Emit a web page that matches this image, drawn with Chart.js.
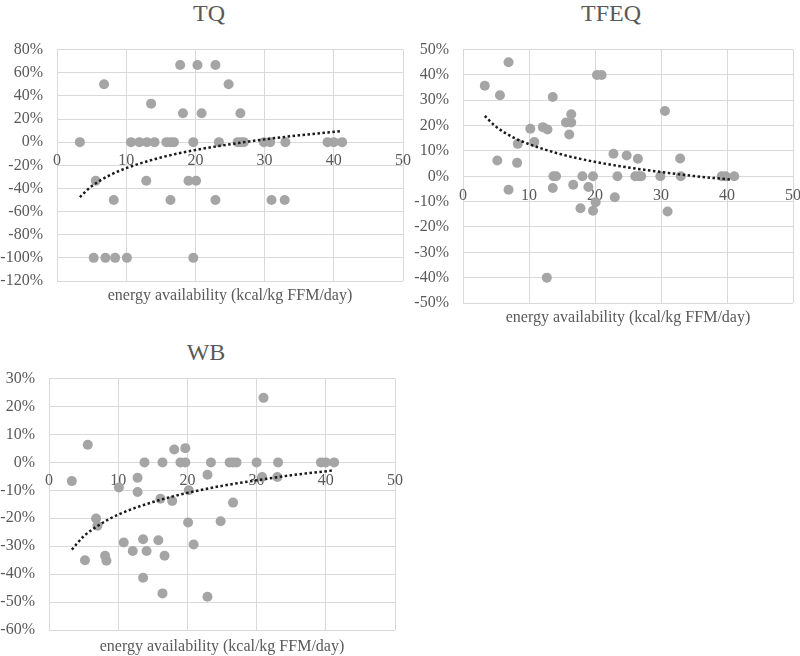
<!DOCTYPE html>
<html>
<head>
<meta charset="utf-8">
<script src="https://cdn.jsdelivr.net/npm/chart.js@4.4.0/dist/chart.umd.min.js"></script>
<style>
body { margin: 0; background: #fff; width: 800px; height: 656px; position: relative; overflow: hidden; }
canvas { position: absolute; }
.title { position: absolute; transform: translate(-50%, -50%); font-family: 'Liberation Serif', 'Times New Roman', serif; font-size: 24px; color: #595959; white-space: nowrap; }
</style>
</head>
<body>
<div class="title" style="left:209px;top:13px">TQ</div>
<div class="title" style="left:611px;top:13px">TFEQ</div>
<div class="title" style="left:206px;top:352px">WB</div>
<canvas id="tq" width="420" height="279" style="left:0;top:26px"></canvas>
<canvas id="tfeq" width="411" height="301" style="left:400px;top:26px"></canvas>
<canvas id="wb" width="412" height="301" style="left:0;top:355px"></canvas>
<script>
// TQ
const tqX = [3.3, 6.8, 13.6, 17.8, 20.3, 22.9, 24.8, 18.2, 20.9, 26.5,
    10.7, 11.9, 13.0, 14.1, 15.8, 16.4, 16.9, 19.7, 23.4, 26.1, 26.6, 27.0, 29.9, 30.8, 33.0, 39.1, 40.0, 41.2,
    5.6, 12.9, 19.0, 20.1,
    8.2, 16.4, 22.9, 31.0, 32.9,
    5.3, 7.0, 8.4, 10.1, 19.7];
const tqY = [0, 50, 33.3, 66.7, 66.7, 66.7, 50, 25, 25, 25,
    0, 0, 0, 0, 0, 0, 0, 0, 0, 0, 0, 0, 0, 0, 0, 0, 0, 0,
    -33.3, -33.3, -33.3, -33.3,
    -50, -50, -50, -50, -50,
    -100, -100, -100, -100, -100];
const tqTrendX = [3.3, 5, 7.5, 10, 15, 20, 25, 30, 35, 41.2];
const tqTrendY = [-47.5, -38.1, -29.0, -22.5, -13.3, -6.8, -1.8, 2.4, 5.9, 9.6];

// TFEQ
const tfeqX = [3.3, 6.9, 5.6, 13.6, 20.3, 21.0, 30.6, 16.4, 15.6, 16.4, 16.1, 10.2, 12.1, 12.8, 10.8, 8.3, 5.2, 8.2, 22.8, 24.8, 26.5, 32.9,
    13.7, 14.1, 18.1, 19.7, 23.4, 26.1, 26.6, 27.0, 29.9, 33.0, 39.2, 39.8, 41.1,
    6.9, 13.6, 16.7, 19.0, 17.8, 19.7, 20.1, 23.0, 31.0, 12.7];
const tfeqY = [35.7, 45, 32, 31.3, 40, 40, 25.8, 24.5, 21.2, 21.2, 16.5, 18.8, 19.4, 18.5, 13.5, 12.8, 6.2, 5.3, 8.9, 8.2, 6.9, 7.0,
    0, 0, 0, 0, 0, 0, 0, 0, 0, 0, 0, 0, 0,
    -5.3, -4.6, -3.3, -4.2, -12.6, -13.6, -10.2, -8.3, -13.9, -40];
const tfeqTrendX = [3.3, 5, 7.5, 10, 15, 20, 25, 30, 35, 40.6];
const tfeqTrendY = [23.8, 19.6, 15.5, 12.7, 8.6, 5.7, 3.5, 1.7, 0.1, -1.3];

// WB
const wbX = [3.3, 5.6, 31.0, 18.1, 19.7,
    13.8, 16.4, 19.0, 19.7, 23.4, 26.1, 26.6, 27.1, 30.0, 33.1, 39.3, 40.0, 41.2,
    12.8, 22.9, 30.8, 33.0, 10.1, 12.8, 20.2, 16.1, 17.8, 26.6,
    6.8, 7.0, 20.1, 24.8, 5.2, 8.1, 8.3, 10.8, 12.1, 13.6, 14.1, 15.8, 16.7, 20.9, 13.6, 16.4, 22.9];
const wbY = [-6.7, 6.3, 23.1, 4.6, 5.1,
    0, 0, 0, 0, 0, 0, 0, 0, 0, 0, 0, 0, 0,
    -5.5, -4.4, -5.2, -5.2, -9.0, -10.6, -10, -13, -13.8, -14.4,
    -20.1, -22.7, -21.5, -21.1, -35, -33.4, -35.2, -28.7, -31.7, -27.5, -31.7, -27.9, -33.4, -29.4, -41.3, -46.9, -48.1];
const wbTrendX = [3.3, 5, 7.5, 10, 15, 20, 25, 30, 35, 41];
const wbTrendY = [-31.2, -26.5, -22.0, -18.7, -14.2, -10.9, -8.4, -6.4, -4.6, -2.9];

const xTitle = 'energy availability (kcal/kg FFM/day)';
const serif = "'Liberation Serif', 'Times New Roman', serif";
const textColor = '#595959';
const gridColor = '#d9d9d9';

function pairs(xs, ys) {
    return xs.map((x, i) => ({ x: x, y: ys[i] }));
}

function makeChart(id, xs, ys, tx, ty, yMin, yMax, yStep, yWidth, xHeight, xTickPad) {
    return new Chart(document.getElementById(id), {
        type: 'scatter',
        data: {
            datasets: [
                {
                    data: pairs(tx, ty),
                    showLine: true,
                    borderColor: '#1a1a1a',
                    borderWidth: 2.5,
                    borderDash: [2.5, 2.5],
                    pointRadius: 0,
                    cubicInterpolationMode: 'monotone',
                    order: 0
                },
                {
                    data: pairs(xs, ys),
                    backgroundColor: '#a5a5a5',
                    borderWidth: 0,
                    pointRadius: 5,
                    order: 1
                }
            ]
        },
        options: {
            animation: false,
            responsive: false,
            layout: { padding: { top: 2, right: 8, left: 0, bottom: 0 } },
            plugins: { legend: { display: false }, tooltip: { enabled: false } },
            scales: {
                x: {
                    type: 'linear', min: 0, max: 50,
                    ticks: { stepSize: 10, display: false },
                    grid: { color: gridColor, drawTicks: false },
                    border: { display: false },
                    title: { display: true, text: xTitle, color: textColor, font: { family: serif, size: 16 }, padding: 0 },
                    afterFit: s => { s.height = xHeight; }
                },
                x0: {
                    type: 'linear', position: { y: 0 }, min: 0, max: 50,
                    ticks: { stepSize: 10, autoSkip: false, color: textColor, font: { family: serif, size: 16 }, padding: xTickPad },
                    grid: { display: false, drawTicks: false },
                    border: { display: false }
                },
                y: {
                    min: yMin, max: yMax,
                    ticks: { stepSize: yStep, autoSkip: false, color: textColor, font: { family: serif, size: 16 }, padding: 14, callback: v => v + '%' },
                    grid: { color: gridColor, drawTicks: false },
                    border: { display: false },
                    afterFit: s => { s.width = yWidth; }
                }
            }
        }
    });
}

makeChart('tq', tqX, tqY, tqTrendX, tqTrendY, -120, 80, 20, 57, 24, 9);
makeChart('tfeq', tfeqX, tfeqY, tfeqTrendX, tfeqTrendY, -50, 50, 10, 63, 24, 10);
makeChart('wb', wbX, wbY, wbTrendX, wbTrendY, -60, 30, 10, 49, 26, 9);
</script>
</body>
</html>
